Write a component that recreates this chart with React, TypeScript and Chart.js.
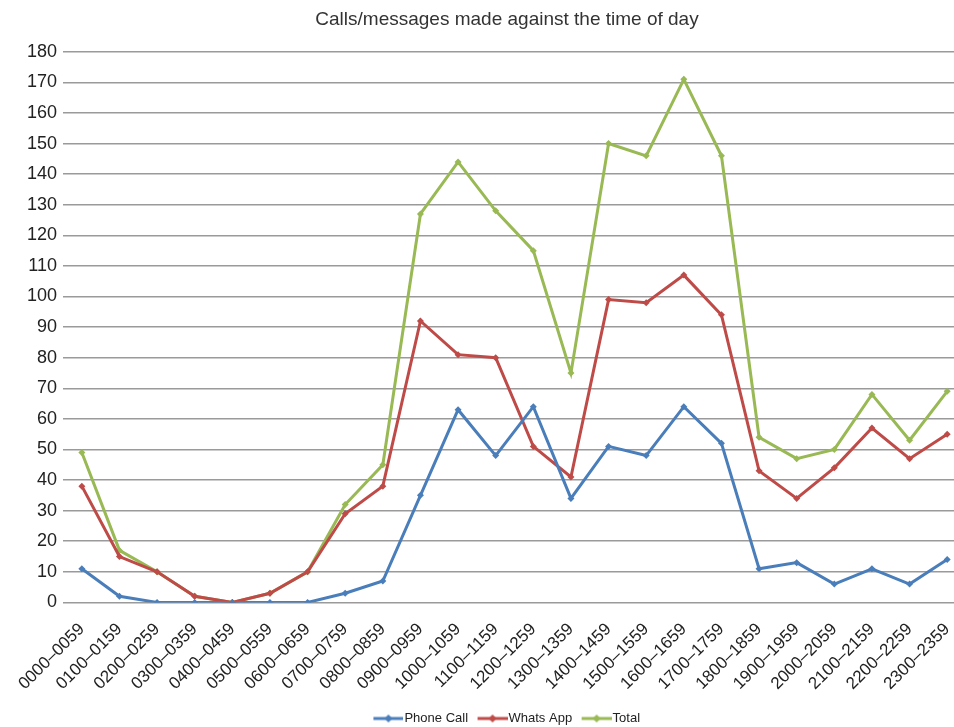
import React, { useEffect, useRef } from "react";
import { Chart, registerables } from "chart.js";

Chart.register(...registerables);

const categories = [
  "0000–0059", "0100–0159", "0200–0259", "0300–0359", "0400–0459", "0500–0559",
  "0600–0659", "0700–0759", "0800–0859", "0900–0959", "1000–1059", "1100–1159",
  "1200–1259", "1300–1359", "1400–1459", "1500–1559", "1600–1659", "1700–1759",
  "1800–1859", "1900–1959", "2000–2059", "2100–2159", "2200–2259", "2300–2359",
];

const phoneCall = [11, 2, 0, 0, 0, 0, 0, 3, 7, 35, 63, 48, 64, 34, 51, 48, 64, 52, 11, 13, 6, 11, 6, 14];
const whatsApp = [38, 15, 10, 2, 0, 3, 10, 29, 38, 92, 81, 80, 51, 41, 99, 98, 107, 94, 43, 34, 44, 57, 47, 55];
const total = [49, 17, 10, 2, 0, 3, 10, 32, 45, 127, 144, 128, 115, 75, 150, 146, 171, 146, 54, 47, 50, 68, 53, 69];

const seriesNames = ["Phone Call", "Whats App", "Total"];
const seriesColors = ["#4a7ebb", "#be4b48", "#98b954"];

const FONT = 'Helvetica, Arial, "Liberation Sans", sans-serif';

function legendIcon(color: string): HTMLCanvasElement {
  const c = document.createElement("canvas");
  c.width = 35;
  c.height = 10;
  const ctx = c.getContext("2d")!;
  ctx.strokeStyle = color;
  ctx.lineWidth = 3;
  ctx.beginPath();
  ctx.moveTo(5, 5);
  ctx.lineTo(35, 5);
  ctx.stroke();
  ctx.fillStyle = color;
  ctx.beginPath();
  ctx.moveTo(20, 1);
  ctx.lineTo(24, 5);
  ctx.lineTo(20, 9);
  ctx.lineTo(16, 5);
  ctx.closePath();
  ctx.fill();
  return c;
}

export default function App() {
  const ref = useRef<HTMLCanvasElement | null>(null);

  useEffect(() => {
    if (!ref.current) return;
    const datasets = [phoneCall, whatsApp, total].map((data, i) => ({
      label: seriesNames[i],
      data,
      yAxisID: "y",
      borderColor: seriesColors[i],
      backgroundColor: seriesColors[i],
      borderWidth: 3,
      pointStyle: "rectRot" as const,
      pointRadius: 3.5,
      pointBorderWidth: 0,
      tension: 0,
    }));
    const icons = seriesColors.map(legendIcon);
    const chart = new Chart(ref.current, {
      type: "line",
      data: { labels: categories, datasets },
      options: {
        responsive: false,
        animation: false,
        devicePixelRatio: 1,
        layout: { padding: { left: 0, right: 0, top: 0, bottom: -8 } },
        plugins: {
          title: {
            display: true,
            text: "Calls/messages made against the time of day",
            color: "#333",
            font: { family: FONT, size: 19, weight: "normal" },
            padding: { top: 8, bottom: 21 },
          },
          legend: {
            position: "bottom",
            labels: {
              usePointStyle: true,
              pointStyleWidth: 24,
              color: "#222",
              font: { family: FONT, size: 13 },
              padding: 10,
              generateLabels: (ch: any) =>
                ch.data.datasets.map((ds: any, i: number) => ({
                  text: ds.label,
                  pointStyle: icons[i],
                  fillStyle: seriesColors[i],
                  strokeStyle: seriesColors[i],
                  lineWidth: 0,
                  hidden: false,
                  datasetIndex: i,
                  fontColor: "#222",
                })),
            },
          },
          tooltip: { enabled: false },
        },
        scales: {
          x: {
            offset: true,
            grid: { display: false, drawTicks: false },
            border: { display: false },
            afterFit: (scale: any) => {
              scale.height -= 9;
            },
            ticks: {
              minRotation: 45,
              maxRotation: 45,
              autoSkip: false,
              padding: 17,
              color: "#222",
              font: { family: FONT, size: 17 },
            },
          },
          y: {
            min: 0,
            max: 180,
            position: "left",
            grid: { color: "#9a9a9a", lineWidth: 1.5, drawTicks: false },
            border: { display: false },
            afterFit: (scale: any) => {
              scale.width += 21;
            },
            ticks: {
              stepSize: 10,
              padding: 6,
              color: "#222",
              font: { family: FONT, size: 18 },
            },
          },
          yR: {
            position: "right",
            display: true,
            grid: { display: false, drawTicks: false },
            border: { display: false },
            ticks: { display: false },
            afterFit: (scale: any) => {
              scale.width = 48;
            },
          },
        },
      },
    });
    return () => chart.destroy();
  }, []);

  return (
    <div
      style={{
        position: "fixed",
        left: 0,
        top: 0,
        width: 954,
        height: 727,
        overflow: "hidden",
        background: "#fff",
      }}
    >
      <canvas ref={ref} width={1014} height={727} style={{ display: "block" }} />
    </div>
  );
}
